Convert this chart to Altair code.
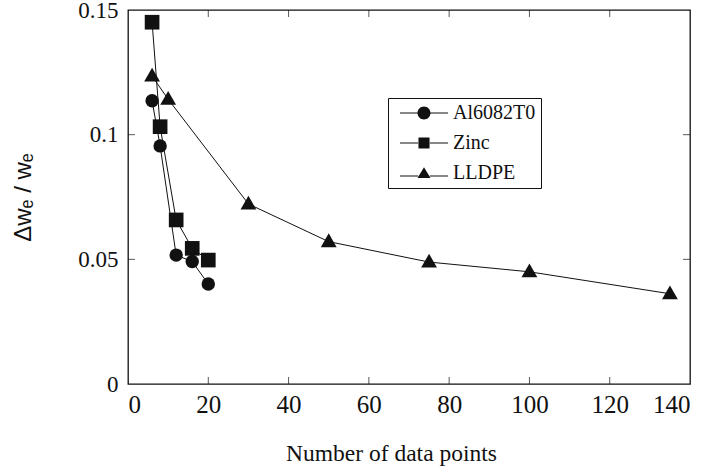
import altair as alt
import pandas as pd

# ---- data ----
al_x = [6, 8, 12, 16, 20]
al_y = [0.1136, 0.0955, 0.0517, 0.0491, 0.0401]
zn_x = [6, 8, 12, 16, 20]
zn_y = [0.1451, 0.1032, 0.0658, 0.0544, 0.0497]
ll_x = [6, 10, 30, 50, 75, 100, 135]
ll_y = [0.1235, 0.1142, 0.0722, 0.0571, 0.0489, 0.0450, 0.0362]
series = ["Al6082T0", "Zinc", "LLDPE"]

x_labels = [0, 20, 40, 60, 80, 100, 120, 140]
y_labels = [0, 0.05, 0.1, 0.15]
x_minor = [20, 40, 60, 80, 100, 120]
y_minor = [0.05, 0.1]

rows = []
for name, xs, ys in [(series[0], al_x, al_y), (series[1], zn_x, zn_y), (series[2], ll_x, ll_y)]:
    for i, (a, b) in enumerate(zip(xs, ys)):
        rows.append({"series": name, "n": a, "dw": b, "order": i})
df = pd.DataFrame(rows)

SERIF = "Liberation Serif, DejaVu Serif, serif"
SANS = "Liberation Sans, DejaVu Sans, sans-serif"
INK = "#111111"

xscale = alt.Scale(domain=[0, 140], nice=False, zero=False)
yscale = alt.Scale(domain=[0, 0.15], nice=False, zero=False)

xaxis = alt.Axis(values=x_labels, grid=False, ticks=False, domain=False,
                 labelFont=SERIF, labelFontSize=25, labelColor=INK, labelPadding=8,
                 title="Number of data points", titleFont=SERIF, titleFontSize=23.5,
                 titleFontWeight="normal", titleColor=INK, titleX=263, titleY=57,
                 titleAlign="center", titleBaseline="top")
yaxis = alt.Axis(values=y_labels, format="~g", grid=False, ticks=False, domain=False,
                 labelFont=SERIF, labelFontSize=23, labelColor=INK, labelPadding=10,
                 title="Δwₑ / wₑ", titleFont=SANS, titleFontSize=24,
                 titleFontWeight="normal", titleColor=INK, titlePadding=42)

base = alt.Chart(df)

lines = base.mark_line(color=INK, strokeWidth=1).encode(
    x=alt.X("n:Q", scale=xscale, axis=xaxis),
    y=alt.Y("dw:Q", scale=yscale, axis=yaxis),
    detail="series:N",
    order="order:Q",
)

TRI = "M0,-1.05L1,0.7H-1Z"
points = base.mark_point(filled=True, color=INK, opacity=1).encode(
    x=alt.X("n:Q", scale=xscale),
    y=alt.Y("dw:Q", scale=yscale),
    shape=alt.Shape("series:N", scale=alt.Scale(domain=series, range=["circle", "square", TRI]), legend=None),
    size=alt.Size("series:N", scale=alt.Scale(domain=series, range=[180, 250, 225]), legend=None),
)

# inward tick marks on all four sides
xt = pd.DataFrame({"v": x_minor})
yt = pd.DataFrame({"v": y_minor})
tick_bottom = alt.Chart(xt).mark_tick(orient="vertical", size=7, thickness=1, color=INK, yOffset=-3.5).encode(
    x=alt.X("v:Q", scale=xscale), y=alt.datum(0, scale=yscale))
tick_top = alt.Chart(xt).mark_tick(orient="vertical", size=7, thickness=1, color=INK, yOffset=3.5).encode(
    x=alt.X("v:Q", scale=xscale), y=alt.datum(0.15, scale=yscale))
tick_left = alt.Chart(yt).mark_tick(orient="horizontal", size=7, thickness=1, color=INK, xOffset=3.5).encode(
    y=alt.Y("v:Q", scale=yscale), x=alt.datum(0, scale=xscale))
tick_right = alt.Chart(yt).mark_tick(orient="horizontal", size=7, thickness=1, color=INK, xOffset=-3.5).encode(
    y=alt.Y("v:Q", scale=yscale), x=alt.datum(140, scale=xscale))

# legend symbols: filled shape plus thin filled bars on either side (line through symbol)
BARS = "M-3.7,-0.08H-0.9V0.08H-3.7Z M0.9,-0.08H3.7V0.08H0.9Z"
BARS_T = "M-3.7,0.37H-0.9V0.53H-3.7Z M0.9,0.37H3.7V0.53H0.9Z"
legend_paths = [
    "M1,0A1,1 0 1,1 -1,0A1,1 0 1,1 1,0Z " + BARS,
    "M-0.85,-0.85H0.85V0.85H-0.85Z " + BARS,
    "M0,-0.9L1,0.75H-1Z " + BARS_T,
]
legend_layer = base.mark_point(filled=True, color=INK, opacity=1).encode(
    x=alt.X("n:Q", scale=xscale),
    y=alt.Y("dw:Q", scale=yscale),
    shape=alt.Shape("series:N", scale=alt.Scale(domain=series, range=legend_paths),
                    legend=alt.Legend(title=None, orient="none", legendX=260, legendY=88,
                                      padding=5, rowPadding=10, symbolSize=169,
                                      symbolOffset=21, labelOffset=19,
                                      symbolFillColor=INK, symbolStrokeWidth=0,
                                      symbolOpacity=1,
                                      labelFont=SERIF, labelFontSize=20, labelColor=INK,
                                      strokeColor=INK, fillColor="white",
                                      labelLimit=300)),
).transform_filter("false")

chart = alt.layer(lines, points, tick_bottom, tick_top, tick_left, tick_right, legend_layer).resolve_scale(
    shape="independent", size="independent"
).resolve_legend(shape="independent").properties(
    width=562, height=374,
    autosize=alt.AutoSizeParams(type="none"),
    padding={"left": 128, "top": 10, "right": 22, "bottom": 90},
    background="white",
).configure_view(stroke=INK, strokeWidth=1.3)

chart.save("out.html", embed_options={"renderer": "svg", "actions": False})
